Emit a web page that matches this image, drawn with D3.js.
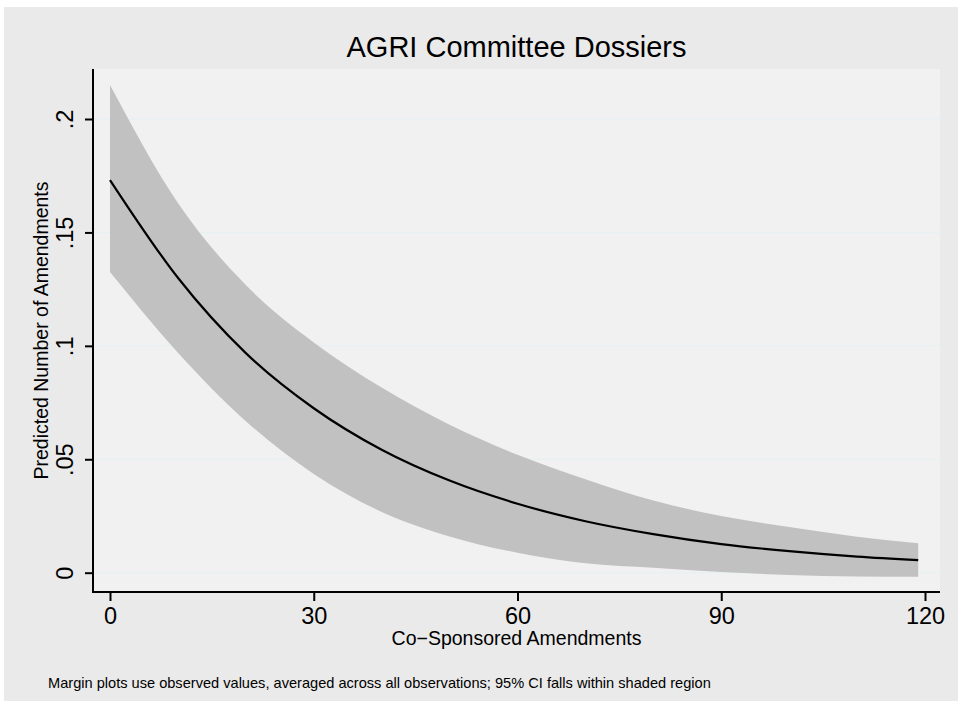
<!DOCTYPE html>
<html>
<head>
<meta charset="utf-8">
<script src="https://cdn.jsdelivr.net/npm/d3@7/dist/d3.min.js"></script>
<style>
  html, body { margin: 0; padding: 0; background: #ffffff; }
  svg { display: block; font-family: "Liberation Sans", Arial, Helvetica, sans-serif; }
</style>
</head>
<body>
<svg id="chart" width="958" height="701"></svg>
<script>
// Co-sponsored amendments (x) and predicted number of amendments with 95% CI
const coSponsored = [0, 10, 20, 30, 40, 50, 60, 70, 80, 90, 100, 110, 119];
const predicted   = [0.1731, 0.1300, 0.0968, 0.0725, 0.0542, 0.0406, 0.0304, 0.0227, 0.0170, 0.0126, 0.0095, 0.0071, 0.0055];
const ciUpper     = [0.2150, 0.1630, 0.1268, 0.1015, 0.0816, 0.0652, 0.0520, 0.0412, 0.0318, 0.0250, 0.0201, 0.0159, 0.0130];
const ciLower     = [0.1325, 0.0970, 0.0668, 0.0435, 0.0268, 0.0160, 0.0088, 0.0042, 0.0022, 0.0003, -0.0010, -0.0017, -0.0018];

const xTicks = [0, 30, 60, 90, 120];
const xTickLabels = ["0", "30", "60", "90", "120"];
const yTicks = [0, 0.05, 0.1, 0.15, 0.2];
const yTickLabels = ["0", ".05", ".1", ".15", ".2"];

const titleText = "AGRI Committee Dossiers";
const xTitle = "Co\u2212Sponsored Amendments";
const yTitle = "Predicted Number of Amendments";
const noteText = "Margin plots use observed values, averaged across all observations; 95% CI falls within shaded region";

const rows = coSponsored.map((x, i) => ({ x, y: predicted[i], hi: ciUpper[i], lo: ciLower[i] }));

const svg = d3.select("#chart");

// plot region bounds
const plot = { left: 93, right: 940, top: 69, bottom: 592 };

const x = d3.scaleLinear().domain([0, 120]).range([110, 925]);
const y = d3.scaleLinear().domain([0, 0.2]).range([572.7, 119]);

// outer graph background
svg.append("rect").attr("x", 4).attr("y", 7).attr("width", 954).attr("height", 694).attr("fill", "#eaeaea");

// plot region background
svg.append("rect")
  .attr("x", plot.left).attr("y", plot.top)
  .attr("width", plot.right - plot.left).attr("height", plot.bottom - plot.top)
  .attr("fill", "#f1f1f1");

// horizontal gridlines
svg.append("g").selectAll("line").data(yTicks).join("line")
  .attr("x1", plot.left).attr("x2", plot.right)
  .attr("y1", d => y(d)).attr("y2", d => y(d))
  .attr("stroke", "#e8f1f2").attr("stroke-width", 1.5);

// confidence band
const area = d3.area().curve(d3.curveMonotoneX)
  .x(d => x(d.x)).y0(d => y(d.lo)).y1(d => y(d.hi));
svg.append("path").datum(rows).attr("d", area).attr("fill", "#c1c1c1");

// prediction line
const line = d3.line().curve(d3.curveMonotoneX)
  .x(d => x(d.x)).y(d => y(d.y));
svg.append("path").datum(rows).attr("d", line)
  .attr("fill", "none").attr("stroke", "#000").attr("stroke-width", 2.2);

// axis lines
svg.append("line").attr("x1", plot.left).attr("x2", plot.left)
  .attr("y1", plot.top).attr("y2", plot.bottom + 1)
  .attr("stroke", "#000").attr("stroke-width", 2);
svg.append("line").attr("x1", plot.left - 1).attr("x2", plot.right)
  .attr("y1", plot.bottom).attr("y2", plot.bottom)
  .attr("stroke", "#000").attr("stroke-width", 2);

// x axis
const xAxis = d3.axisBottom(x).tickValues(xTicks)
  .tickFormat((d, i) => xTickLabels[i]).tickSize(9).tickSizeOuter(0).tickPadding(6);
const gx = svg.append("g").attr("transform", `translate(0,${plot.bottom})`).call(xAxis);
gx.select(".domain").remove();
gx.selectAll(".tick line").attr("stroke", "#000").attr("stroke-width", 2);
gx.selectAll(".tick text")
  .attr("y", 32).attr("dy", null)
  .attr("fill", "#000").attr("font-size", 23.5)
  .attr("font-family", "Liberation Sans, Arial, Helvetica, sans-serif");

// y axis
const yAxis = d3.axisLeft(y).tickValues(yTicks)
  .tickFormat((d, i) => yTickLabels[i]).tickSize(8).tickSizeOuter(0);
const gy = svg.append("g").attr("transform", `translate(${plot.left},0)`).call(yAxis);
gy.select(".domain").remove();
gy.selectAll(".tick line").attr("stroke", "#000").attr("stroke-width", 2);
gy.selectAll(".tick text")
  .attr("x", null).attr("dy", null)
  .attr("transform", "translate(-20,0) rotate(-90)")
  .attr("text-anchor", "middle")
  .attr("fill", "#000").attr("font-size", 23.5)
  .attr("font-family", "Liberation Sans, Arial, Helvetica, sans-serif");

// titles
svg.append("text").attr("x", (plot.left + plot.right) / 2).attr("y", 57)
  .attr("text-anchor", "middle").attr("font-size", 29).attr("fill", "#000")
  .text(titleText);

svg.append("text").attr("x", (plot.left + plot.right) / 2).attr("y", 645)
  .attr("text-anchor", "middle").attr("font-size", 19.5).attr("fill", "#000")
  .text(xTitle);

svg.append("text")
  .attr("transform", `translate(48,${(plot.top + plot.bottom) / 2}) rotate(-90)`)
  .attr("text-anchor", "middle").attr("font-size", 19.5).attr("fill", "#000")
  .text(yTitle);

// note
svg.append("text").attr("x", 48).attr("y", 688)
  .attr("font-size", 14.6).attr("fill", "#000")
  .text(noteText);
</script>
</body>
</html>
